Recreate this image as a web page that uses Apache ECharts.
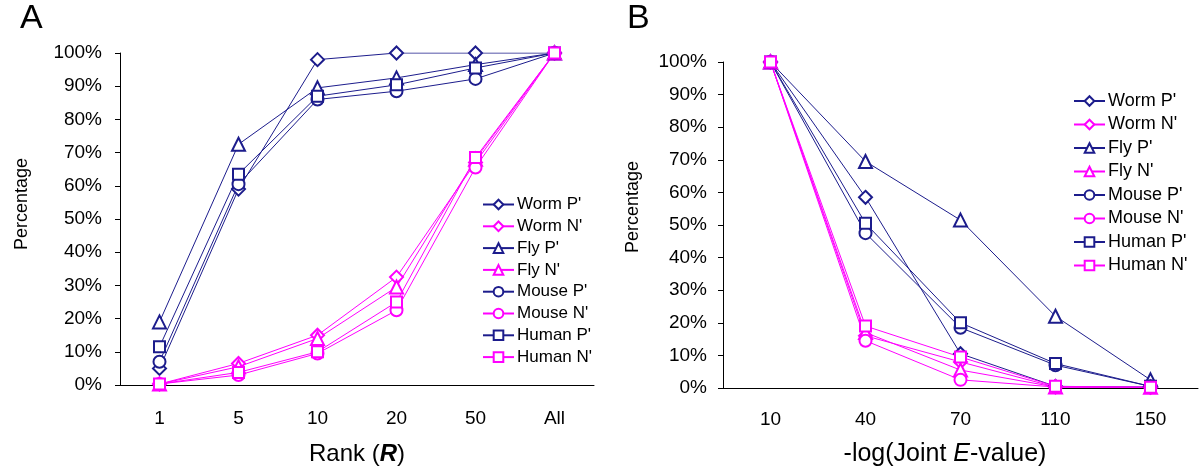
<!DOCTYPE html>
<html>
<head>
<meta charset="utf-8">
<script src="https://cdn.jsdelivr.net/npm/echarts@6/dist/echarts.min.js"></script>
<style>
  html, body { margin: 0; padding: 0; background: #fff; }
  #main { width: 1200px; height: 472px; }
</style>
</head>
<body>
<div id="main"></div>
<script>
// panel A: percentage by rank
var rankCats = ['1', '5', '10', '20', '50', 'All'];
var wormP_A  = [5, 59, 98, 100, 100, 100];
var wormN_A  = [0.3, 6.5, 15, 32.5, 67, 100];
var flyP_A   = [19, 72.5, 89.5, 92.5, 96.5, 100];
var flyN_A   = [0.3, 5.5, 14, 29.5, 68, 100];
var mouseP_A = [7, 60.5, 86, 88.5, 92.2, 100];
var mouseN_A = [0.3, 3, 9.5, 22.5, 65.5, 100];
var humanP_A = [11.5, 63.5, 87, 90.4, 95.5, 100];
var humanN_A = [0.3, 3.8, 10, 25, 68.5, 100];

// panel B: percentage by -log(joint E-value)
var evalCats = ['10', '40', '70', '110', '150'];
var wormP_B  = [100, 58.5, 10.5, 0.5, 0.3];
var wormN_B  = [100, 16, 8, 0.3, 0.2];
var flyP_B   = [100, 69.5, 51.5, 22, 2.5];
var flyN_B   = [100, 17, 5.5, 0.3, 0.2];
var mouseP_B = [100, 47.5, 18.5, 7, 0.5];
var mouseN_B = [100, 14.5, 2.5, 0.3, 0.2];
var humanP_B = [100, 50.5, 20, 7.5, 0.5];
var humanN_B = [100, 19, 9.5, 0.5, 0.2];

var names = ["Worm P'", "Worm N'", "Fly P'", "Fly N'", "Mouse P'", "Mouse N'", "Human P'", "Human N'"];
var NAVY = '#1c1c8c', PINK = '#ff00ff';
var FONT = 'Arial, "Liberation Sans", sans-serif';

var styles = [
  { c: NAVY, s: 'emptyDiamond', z: 13 },
  { c: PINK, s: 'emptyDiamond', z: 13 },
  { c: NAVY, s: 'emptyTriangle', z: 13 },
  { c: PINK, s: 'emptyTriangle', z: 13 },
  { c: NAVY, s: 'emptyCircle', z: 12 },
  { c: PINK, s: 'emptyCircle', z: 12 },
  { c: NAVY, s: 'emptyRect', z: 11 },
  { c: PINK, s: 'emptyRect', z: 11 }
];

var dataA = [wormP_A, wormN_A, flyP_A, flyN_A, mouseP_A, mouseN_A, humanP_A, humanN_A];
var dataB = [wormP_B, wormN_B, flyP_B, flyN_B, mouseP_B, mouseN_B, humanP_B, humanN_B];

function mkSeries(data, idx) {
  var out = [];
  for (var i = 0; i < data.length; i++) {
    out.push({
      name: names[i],
      type: 'line',
      xAxisIndex: idx,
      yAxisIndex: idx,
      data: data[i],
      symbol: styles[i].s,
      symbolSize: styles[i].z,
      showAllSymbol: true,
      animation: false,
      color: styles[i].c,
      lineStyle: { color: styles[i].c, width: 1 },
      itemStyle: { color: styles[i].c, borderWidth: 1 },
      emphasis: { disabled: true }
    });
  }
  return out;
}

function mkX(cats, idx, margin) {
  return {
    type: 'category', gridIndex: idx, data: cats, boundaryGap: true,
    axisLine: { lineStyle: { color: '#000', width: 1 } },
    axisTick: { inside: true, length: 6, lineStyle: { color: '#000' } },
    axisLabel: { color: '#000', fontSize: 19, fontFamily: FONT, margin: margin },
    splitLine: { show: false }
  };
}

function mkY(idx, margin) {
  return {
    type: 'value', gridIndex: idx, min: 0, max: 100, interval: 10,
    axisLine: { show: true, lineStyle: { color: '#000', width: 1 } },
    axisTick: { show: true, length: 5, lineStyle: { color: '#000' } },
    axisLabel: { color: '#000', fontSize: 19, fontFamily: FONT, margin: margin,
      padding: [5, 0, 0, 0], formatter: '{value}%' },
    splitLine: { show: false }
  };
}

var option = {
  backgroundColor: '#fff',
  animation: false,
  grid: [
    { left: 120, top: 53, width: 474, height: 332 },
    { left: 723, top: 62, width: 475, height: 326 }
  ],
  xAxis: [mkX(rankCats, 0, 24), mkX(evalCats, 1, 22)],
  yAxis: [mkY(0, 18), mkY(1, 16)],
  legend: [
    { orient: 'vertical', left: 482, top: 196, padding: 0, itemWidth: 31, itemHeight: 12, itemGap: 4.8,
      data: names, selectedMode: false,
      textStyle: { color: '#000', fontSize: 17, fontFamily: FONT, padding: [0, 0, 0, -2] } },
    { orient: 'vertical', left: 1073, top: 92, padding: 0, itemWidth: 31, itemHeight: 12, itemGap: 5.5,
      data: names, selectedMode: false,
      textStyle: { color: '#000', fontSize: 18, fontFamily: FONT, padding: [0, 0, 0, -2] } }
  ],
  graphic: [
    { type: 'text', left: 20, top: 2, style: { text: 'A', font: '34px ' + FONT, fill: '#000' } },
    { type: 'text', left: 627, top: 2, style: { text: 'B', font: '34px ' + FONT, fill: '#000' } },
    { type: 'text', x: 22, y: 204, rotation: Math.PI / 2,
      style: { text: 'Percentage', font: '18px ' + FONT, fill: '#000', align: 'center', verticalAlign: 'middle' } },
    { type: 'text', x: 633, y: 207, rotation: Math.PI / 2,
      style: { text: 'Percentage', font: '18px ' + FONT, fill: '#000', align: 'center', verticalAlign: 'middle' } },
    { type: 'text', x: 357, y: 454,
      style: { text: 'Rank ({b|R})', font: '24px ' + FONT, fill: '#000', align: 'center', verticalAlign: 'middle',
        rich: { b: { fontWeight: 'bold', fontStyle: 'italic', fontSize: 24, fontFamily: FONT } } } },
    { type: 'text', x: 945, y: 454,
      style: { text: '-log(Joint {i|E}-value)', font: '25px ' + FONT, fill: '#000', align: 'center', verticalAlign: 'middle',
        rich: { i: { fontStyle: 'italic', fontSize: 25, fontFamily: FONT } } } }
  ],
  series: mkSeries(dataA, 0).concat(mkSeries(dataB, 1))
};

var chart = echarts.init(document.getElementById('main'));
chart.setOption(option);
</script>
</body>
</html>
